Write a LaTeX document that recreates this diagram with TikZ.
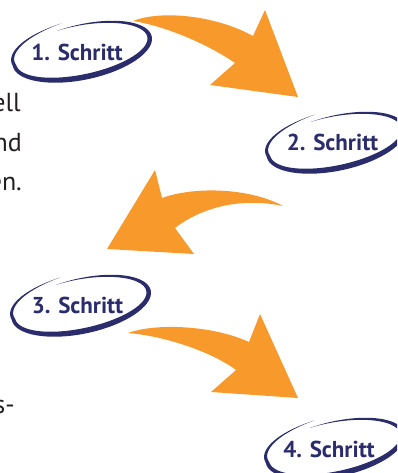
\documentclass[tikz,border=0pt]{standalone}
\usepackage{fontspec}
\setmainfont{PT Sans}
\definecolor{navy}{HTML}{2A2C6C}
\definecolor{orng}{HTML}{F7992B}
\definecolor{txt}{HTML}{231F20}
\tikzset{
  swoosh/.pic={
    \fill[navy, rotate=12]
      plot[domain=100:467, samples=160]
        ({(69*(1+0.22*max(0,(180-\x)/80))+2.8*sin((\x-100)/367*180))*cos(\x)},
         {(26*(1+0.22*max(0,(180-\x)/80))+2.8*sin((\x-100)/367*180))*sin(\x)})
      -- plot[domain=467:100, samples=160]
        ({(69*(1+0.22*max(0,(180-\x)/80))-2.8*sin((\x-100)/367*180))*cos(\x)},
         {(26*(1+0.22*max(0,(180-\x)/80))-2.8*sin((\x-100)/367*180))*sin(\x)})
      -- cycle;
  },
  lbl/.style={font=\fontsize{23}{27}\selectfont\bfseries, text=navy, inner sep=0},
  body/.style={font=\fontsize{26}{30}\selectfont, text=txt, inner sep=0, anchor=base east},
  arr/.style={fill=orng}
}
\begin{document}
\begin{tikzpicture}[x=1pt,y=1pt]
\useasboundingbox (0,0) rectangle (397,-473);
\clip (0,0) rectangle (397,-473);

% body text fragments
\node[body] (t1) at (21,-112) {ell};
\node[body] (t2) at (22,-151) {nd};
\node[body] (t3) at (22,-190) {en.};
\node[body] (t4) at (15,-413) {s-};

% arrows
\fill[arr] (133,-21) .. controls (160,-10) and (215,-15) .. (253,-36)
  -- (265,-10) -- (298,-97) -- (210,-85) -- (235,-63)
  .. controls (212,-47) and (170,-27) .. (133,-21) -- cycle;
\fill[arr] (283,-206) .. controls (250,-188) and (195,-186) .. (162,-198)
  -- (155,-170) -- (107,-249) -- (194,-254) -- (175,-228)
  .. controls (205,-205) and (245,-198) .. (283,-206) -- cycle;
\fill[arr] (128,-333) .. controls (155,-323) and (212,-325) .. (249,-342)
  -- (260,-314) -- (298,-398) -- (211,-392) -- (236,-370)
  .. controls (212,-352) and (165,-336) .. (128,-333) -- cycle;

% ellipses
\pic at (82,-51) {swoosh};
\pic at (336,-142) {swoosh};
\pic at (81,-305) {swoosh};
\pic at (335,-448) {swoosh};

% labels
\node[lbl] (s1) at (77,-52.5) {1. Schritt};
\node[lbl] (s2) at (332.5,-142.5) {2. Schritt};
\node[lbl] (s3) at (77.5,-305) {3. Schritt};
\node[lbl] (s4) at (329,-449) {4. Schritt};
\end{tikzpicture}
\end{document}
